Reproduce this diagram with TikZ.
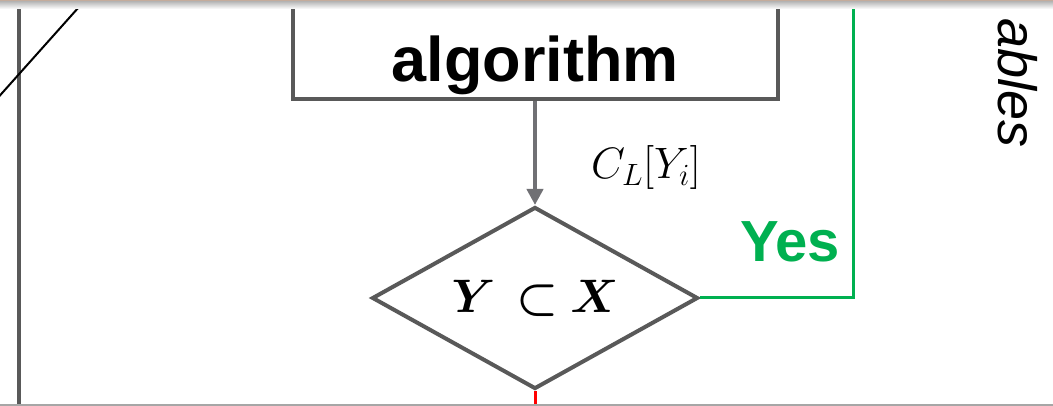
\RequirePackage{fix-cm}
\documentclass[tikz,border=0pt]{standalone}
\usepackage{amsmath,fontspec}
\setmainfont{Liberation Sans}
\usetikzlibrary{arrows.meta,positioning,shapes.geometric}
\definecolor{boxgray}{HTML}{595959}
\definecolor{arrgray}{HTML}{707074}
\definecolor{yesgreen}{HTML}{00B050}
\definecolor{edgebrown}{HTML}{C4AC9C}

\begin{document}
\begin{tikzpicture}[x=1pt,y=-1pt,
  b/.style={draw=boxgray,line width=4pt,minimum width=485pt,font=\fontsize{63}{70}\selectfont\bfseries},
  d/.style={diamond,draw=boxgray,line width=4pt,aspect=1.8,inner sep=0pt,minimum width=326pt,minimum height=182pt,font=\fontsize{47}{56}\selectfont},
  >={Triangle[length=16pt,width=16pt]}]
\useasboundingbox (0,0) rectangle (1053,406);
\clip (0,0) rectangle (1053,406);
\node[b,anchor=south,text height=85pt,text depth=13pt,inner ysep=4pt] (alg) at (535,101) {algorithm};
\node[d] (dia) at (535,298) {$\boldsymbol{Y\mkern7mu{\subset}\mkern4mu X}$\hspace{14pt}};
\draw[->,arrgray,line width=4pt] (alg)--(dia);
\node[font=\fontsize{44}{50}\selectfont,inner sep=0pt] (cl) at (646,168) {$C_L[Y_i]$};
\node[text=yesgreen,font=\fontsize{58}{64}\selectfont\bfseries,inner sep=0pt] (yes) at (790,242) {Yes};
\node[rotate=-90,anchor=base east,inner sep=0pt,font=\fontsize{54}{60}\selectfont\itshape] (var) at (998,148) {ables};
% lines running out of the picture
\coordinate (gtop) at (853,-10);
\coordinate (rbot) at (535,415);
\coordinate (lt) at (19,-10);
\coordinate (lb) at (19,415);
\coordinate (d1) at (-5,101);
\coordinate (d2) at (87,-2);
\draw[yesgreen,line width=3pt] (dia.east) -| (gtop);
\draw[red,line width=3pt] (dia.south)--(rbot);
\draw[boxgray,line width=4pt] (lt)--(lb);
\draw[line width=2pt] (d1)--(d2);
% frame edges
\shade[top color=black!30,bottom color=white] (0,1) rectangle (1053,9);
\draw[edgebrown,line width=2pt] (0,0)--(1053,0);
\draw[black!35,line width=1.5pt] (0,405)--(1053,405);
\end{tikzpicture}
\end{document}
